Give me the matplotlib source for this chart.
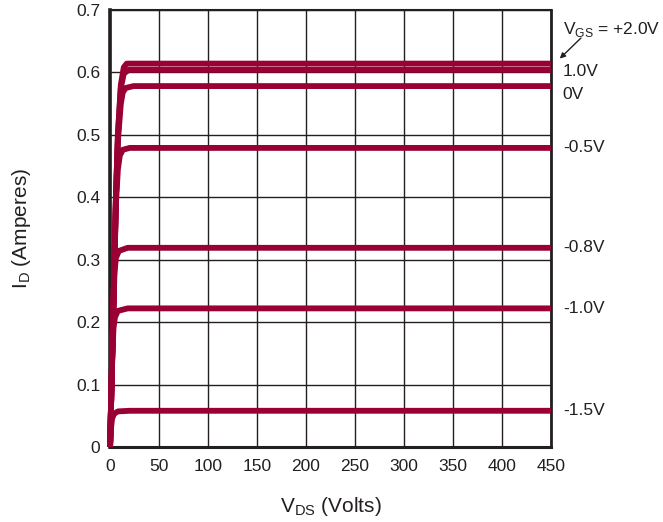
import numpy as np
import matplotlib
matplotlib.use('Agg')
import matplotlib.pyplot as plt

plt.rcParams['font.family'] = ['Liberation Sans', 'DejaVu Sans']

# output curves, one per gate voltage (V_DS in volts, I_D in amperes)
vgs_labels = ['+2.0V', '1.0V', '0V', '-0.5V', '-0.8V', '-1.0V', '-1.5V']

vds_p2 = [0, 3, 6, 8, 11, 14, 17, 450]
id_p2 = [0, 0.2, 0.4, 0.5, 0.58, 0.608, 0.614, 0.614]

vds_p1 = [0, 3, 6, 8, 11, 14, 19, 450]
id_p1 = [0, 0.2, 0.4, 0.5, 0.575, 0.598, 0.604, 0.604]

vds_0 = [0, 3, 6, 8, 11, 13, 16, 24, 450]
id_0 = [0, 0.2, 0.4, 0.49, 0.55, 0.568, 0.575, 0.578, 0.578]

vds_m05 = [0, 3, 6, 8, 10, 13, 20, 450]
id_m05 = [0, 0.2, 0.39, 0.445, 0.467, 0.476, 0.479, 0.479]

vds_m08 = [0, 2.5, 4.5, 6, 9, 18, 450]
id_m08 = [0, 0.17, 0.28, 0.303, 0.314, 0.319, 0.319]

vds_m10 = [0, 2, 3.5, 5, 8, 18, 450]
id_m10 = [0, 0.13, 0.19, 0.208, 0.218, 0.222, 0.222]

vds_m15 = [0, 1, 2, 4, 8, 20, 450]
id_m15 = [0, 0.03, 0.045, 0.053, 0.057, 0.058, 0.058]

curves = [(vds_p2, id_p2), (vds_p1, id_p1), (vds_0, id_0), (vds_m05, id_m05),
          (vds_m08, id_m08), (vds_m10, id_m10), (vds_m15, id_m15)]

x_ticks = [0, 50, 100, 150, 200, 250, 300, 350, 400, 450]
y_ticks = [0, 0.1, 0.2, 0.3, 0.4, 0.5, 0.6, 0.7]
y_ticklabels = ['0', '0.1', '0.2', '0.3', '0.4', '0.5', '0.6', '0.7']

line_color = '#990033'
text_color = '#231f20'

fig = plt.figure(figsize=(6.63, 5.22), dpi=100)
ax = fig.add_axes([0.166, 0.1437, 0.665, 0.8373])

for v, i in curves:
    ax.plot(v, i, color=line_color, lw=4.2, solid_joinstyle='round',
            solid_capstyle='butt', clip_on=False, zorder=3)

ax.set_xlim(0, 450)
ax.set_ylim(0, 0.7)
ax.set_xticks(x_ticks)
ax.set_yticks(y_ticks)
ax.set_yticklabels(y_ticklabels)
ax.grid(True, color='#231f20', lw=1.0)
ax.set_axisbelow(True)
ax.tick_params(length=0, labelsize=12.5, colors=text_color)
ax.tick_params(axis='x', pad=9)
ax.tick_params(axis='y', pad=7)

ax.spines['top'].set_linewidth(1.5)
ax.spines['right'].set_linewidth(2.0)
ax.spines['left'].set_linewidth(2.6)
ax.spines['bottom'].set_linewidth(2.2)
for side in ['top', 'right', 'left', 'bottom']:
    ax.spines[side].set_color(text_color)

ax.set_xlabel('V$_{\\mathregular{DS}}$ (Volts)', fontsize=15, color=text_color, labelpad=15)
ax.set_ylabel('I$_{\\mathregular{D}}$ (Amperes)', fontsize=15, color=text_color, labelpad=31)

# gate voltage labels on the right
label_y = [None, 0.601, 0.565, 0.479, 0.319, 0.222, 0.058]
for lab, y in zip(vgs_labels[1:], label_y[1:]):
    ax.text(1.027, y, lab, transform=ax.get_yaxis_transform(), fontsize=12.5,
            color=text_color, va='center', ha='left')

ax.text(1.027, 0.668, 'V$_{\\mathregular{GS}}$ = ' + vgs_labels[0],
        transform=ax.get_yaxis_transform(), fontsize=12.5,
        color=text_color, va='center', ha='left')
ax.annotate('', xy=(1.02, 0.622), xytext=(1.068, 0.655),
            xycoords=ax.get_yaxis_transform(), textcoords=ax.get_yaxis_transform(),
            arrowprops=dict(arrowstyle='-|>', color=text_color, lw=1.0,
                            mutation_scale=8, shrinkA=0, shrinkB=0))

fig.savefig('out.png', dpi=100)
